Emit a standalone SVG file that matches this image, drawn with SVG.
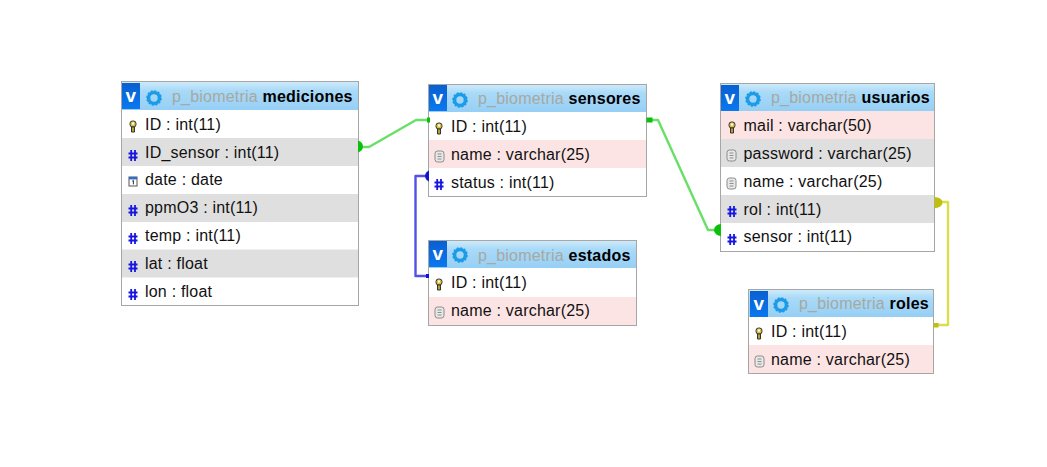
<svg xmlns="http://www.w3.org/2000/svg" width="1047" height="467" viewBox="0 0 1047 467">
<style>
text{font-family:"Liberation Sans",Arial,sans-serif;font-size:16px;fill:#111;letter-spacing:.21px}
.box{fill:#fff;stroke:#a6a6a6;stroke-width:1}
.hd{fill:url(#hg)}
.db{fill:#a8a8a0}
.tn{font-weight:bold;fill:#000}
.v{font-weight:bold;fill:#fff;font-size:19px;text-anchor:middle}
.g{fill:#dfdfdf}
.p{fill:#fde4e4}
.c{fill:none;stroke-width:2.4;stroke-linejoin:round}
</style>
<defs>
<linearGradient id="hg" x1="0" y1="0" x2="0" y2="1"><stop offset="0" stop-color="#cdeafa"/><stop offset=".3" stop-color="#a9daf8"/><stop offset="1" stop-color="#96cff5"/></linearGradient>
<linearGradient id="vg" x1="0" y1="0" x2="0" y2="1"><stop offset="0" stop-color="#0a5fd0"/><stop offset="1" stop-color="#0a78f0"/></linearGradient>
<g id="vb"><rect x="0" y="0" width="18" height="26" fill="url(#vg)"/><text class="v" x="9" y="19">v</text></g>
<g id="gear"><circle cx="8" cy="8" r="5.4" fill="none" stroke="#1c9be8" stroke-width="3.4"/><circle cx="8" cy="8" r="7" fill="none" stroke="#1c9be8" stroke-width="1.6" stroke-dasharray="2.2 1.46"/></g>
<g id="key"><rect x="-3" y="-5" width="6" height="6" rx="2.500" fill="#d8c040" stroke="#333" stroke-width="1"/><rect x="-1" y="-3.500" width="2" height="2" fill="#fff"/><path d="M-1.500 1h3v5h-3z" fill="#b8a030" stroke="#333" stroke-width="1"/></g>
<g id="hash"><path d="M-1.800-5V6M2-5V6M-4.500-1.500H4.500M-4.500 2.500H4.500" stroke="#1616e0" stroke-width="1.800" fill="none"/></g>
<g id="doc"><rect x="-4" y="-5" width="9" height="11" rx="2.500" fill="#e8e8e8" stroke="#8a8a8a"/><path d="M-1.500-2h4M-1.500 .5h4M-1.500 3h4" stroke="#777" stroke-width=".8"/></g>
<g id="cal"><rect x="-4" y="-4" width="8" height="9" fill="#fff" stroke="#555"/><rect x="-4" y="-4" width="8" height="2.400" fill="#2a6fd0"/><path d="M-.8 0.200 L.4-.6V3.400" stroke="#333" fill="none"/></g>
</defs>

<g id="connectors">
<path class="c" stroke="#68e068" d="M362 147H369L416 120H431"/>
<path class="c" stroke="#5252e4" d="M428 176H415.500V276H430"/>
<path class="c" stroke="#68e068" d="M648 120H658L708 230H720"/>
<path class="c" stroke="#dcdc50" d="M936 202H948V325H934"/>
</g>

<g id="mediciones">
<rect class="box" x="121.500" y="81.500" width="237" height="224"/>
<rect class="hd" x="122" y="82" width="236" height="28"/>
<use href="#vb" x="122" y="83"/><use href="#gear" x="146" y="90"/>
<text x="172" y="102"><tspan class="db">p_biometria</tspan> <tspan class="tn">mediciones</tspan></text>
<rect class="g" x="122" y="138" width="236" height="28"/>
<rect class="g" x="122" y="194" width="236" height="28"/>
<rect class="g" x="122" y="249.500" width="236" height="28"/>
<use href="#key" x="133" y="126"/><text x="145" y="130">ID : int(11)</text>
<use href="#hash" x="133" y="155"/><text x="145" y="158">ID_sensor : int(11)</text>
<use href="#cal" x="133" y="181"/><text x="145" y="185">date : date</text>
<use href="#hash" x="133" y="210"/><text x="145" y="213">ppmO3 : int(11)</text>
<use href="#hash" x="133" y="238"/><text x="145" y="241">temp : int(11)</text>
<use href="#hash" x="133" y="266"/><text x="145" y="269">lat : float</text>
<use href="#hash" x="133" y="294"/><text x="145" y="297">lon : float</text>
</g>

<g id="sensores">
<rect class="box" x="428.500" y="84.500" width="218" height="112"/>
<rect class="hd" x="429" y="85" width="217" height="27"/>
<use href="#vb" x="429" y="85"/><use href="#gear" x="452" y="92"/>
<text x="478" y="104"><tspan class="db">p_biometria</tspan> <tspan class="tn">sensores</tspan></text>
<rect class="p" x="429" y="140" width="217" height="28"/>
<use href="#key" x="439" y="128"/><text x="451" y="132">ID : int(11)</text>
<use href="#doc" x="439" y="156"/><text x="451" y="160">name : varchar(25)</text>
<use href="#hash" x="439" y="184"/><text x="451" y="188">status : int(11)</text>
</g>

<g id="estados">
<rect class="box" x="428.500" y="240.500" width="208" height="85"/>
<rect class="hd" x="429" y="241" width="207" height="27"/>
<use href="#vb" x="429" y="241"/><use href="#gear" x="452" y="247"/>
<text x="478" y="261"><tspan class="db">p_biometria</tspan> <tspan class="tn">estados</tspan></text>
<rect class="p" x="429" y="297" width="207" height="28"/>
<use href="#key" x="439" y="284"/><text x="451" y="288">ID : int(11)</text>
<use href="#doc" x="439" y="312"/><text x="451" y="316">name : varchar(25)</text>
</g>

<g id="usuarios">
<rect class="box" x="720.500" y="83.500" width="214" height="168"/>
<rect class="hd" x="721" y="84" width="213" height="27"/>
<use href="#vb" x="721" y="85"/><use href="#gear" x="745" y="91"/>
<text x="771" y="103"><tspan class="db">p_biometria</tspan> <tspan class="tn">usuarios</tspan></text>
<rect class="p" x="721" y="111" width="213" height="28"/>
<rect class="g" x="721" y="139" width="213" height="28"/>
<rect class="g" x="721" y="195" width="213" height="28"/>
<use href="#key" x="732" y="127"/><text x="743.500" y="131">mail : varchar(50)</text>
<use href="#doc" x="731" y="155"/><text x="743.500" y="159">password : varchar(25)</text>
<use href="#doc" x="731" y="183"/><text x="743.500" y="187">name : varchar(25)</text>
<use href="#hash" x="732" y="211"/><text x="743.500" y="215">rol : int(11)</text>
<use href="#hash" x="732" y="239"/><text x="743.500" y="242">sensor : int(11)</text>
</g>

<g id="roles">
<rect class="box" x="748.500" y="289.500" width="185" height="84"/>
<rect class="hd" x="749" y="290" width="184" height="27"/>
<use href="#vb" x="750" y="291"/><use href="#gear" x="773" y="297"/>
<text x="799" y="309"><tspan class="db">p_biometria</tspan> <tspan class="tn">roles</tspan></text>
<rect class="p" x="749" y="345" width="184" height="28"/>
<use href="#key" x="759" y="333"/><text x="771" y="337">ID : int(11)</text>
<use href="#doc" x="759" y="361"/><text x="771" y="365">name : varchar(25)</text>
</g>

<g id="connector-ends">
<path d="M358 140.500A8 6.500 0 0 1 358 152.500Z" fill="#0bbf0b"/>
<rect x="427" y="117.500" width="3" height="5" fill="#0bbf0b"/>
<path d="M429 170.500A6.500 6 0 0 0 429 181.500Z" fill="#1212d0"/>
<rect x="426" y="274" width="3" height="4" fill="#1212d0"/>
<rect x="646.500" y="117.500" width="6" height="5" fill="#0bbf0b"/>
<path d="M721 224A7 6 0 0 0 721 236Z" fill="#0bbf0b"/>
<path d="M934.500 197A8 5.500 0 0 1 934.500 208Z" fill="#bfbf10"/>
<rect x="933.500" y="323" width="5" height="4.500" fill="#bfbf10"/>
</g>
</svg>
